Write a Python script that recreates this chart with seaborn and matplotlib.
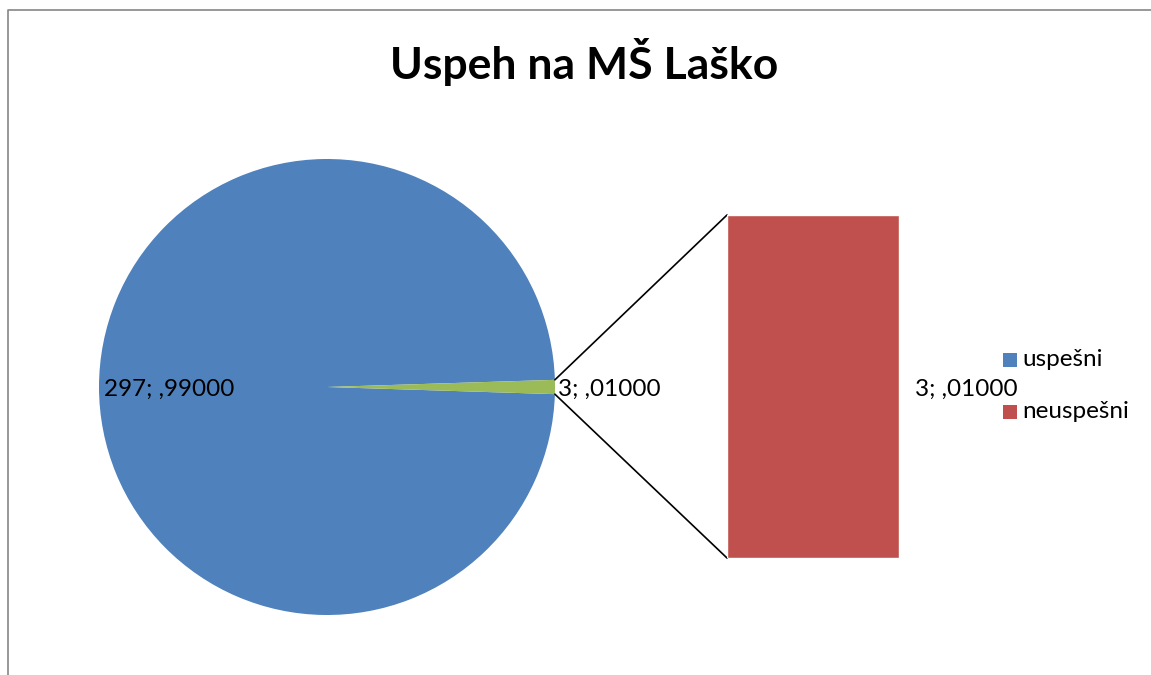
import matplotlib
matplotlib.use("Agg")
import matplotlib.pyplot as plt
import seaborn as sns
import pandas as pd
import numpy as np
from matplotlib.patches import Rectangle

# ---- data ----
categories = ["uspešni", "neuspešni"]
counts = [297, 3]
title = "Uspeh na MŠ Laško"
colors = {"uspešni": "#4F81BD", "neuspešni": "#C0504D", "other": "#9BBB59"}

total = sum(counts)
fracs = [c / total for c in counts]

def fmt(v, f):
    return f"{v}; " + f"{f:.5f}".lstrip("0").replace(".", ",")

sns.set_theme(style="white")
plt.rcParams["font.family"] = ["Lato", "DejaVu Sans"]
plt.rcParams["text.color"] = "black"

W, H = 1151, 675
fig = plt.figure(figsize=(W / 100, H / 100), dpi=100)
ax = fig.add_axes([0, 0, 1, 1])

# pie: main category + "other" slice (which is expanded into the bar)
cx, cy, r = 327, 387, 228
half = fracs[1] * 360 / 2
ax.pie([counts[0], counts[1]], colors=[colors["uspešni"], colors["other"]],
       startangle=half, center=(cx, cy), radius=r, frame=True,
       wedgeprops=dict(linewidth=0))
ax.set_xlim(0, W)
ax.set_ylim(H, 0)
ax.axis("off")

# bar (secondary plot) via seaborn in an inset axes
bx0, bx1, by0, by1 = 727, 899, 215, 558
bax = fig.add_axes([bx0 / W, 1 - by1 / H, (bx1 - bx0) / W, (by1 - by0) / H])
df = pd.DataFrame({"cat": [categories[1]], "val": [counts[1]]})
sns.barplot(data=df, x="cat", y="val", color=colors["neuspešni"], width=1.0,
            saturation=1, ax=bax)
bax.set_xlim(-0.5, 0.5)
bax.set_ylim(0, counts[1])
bax.axis("off")

# connector lines
for sgn, yb in ((1, by0), (-1, by1)):
    a = np.deg2rad(half)
    px, py = cx + r * np.cos(a), cy - sgn * r * np.sin(a)
    ax.plot([px, bx0], [py, yb], color="black", lw=1.2)

# labels
lab_fs = 17.5
ax.text(104, 389, fmt(counts[0], fracs[0]), fontsize=lab_fs, va="center", ha="left")
ax.text(558, 389, fmt(counts[1], fracs[1]), fontsize=lab_fs, va="center", ha="left")
ax.text(915, 389, fmt(counts[1], fracs[1]), fontsize=lab_fs, va="center", ha="left")

# title
ax.text(584, 62, title, fontsize=32, fontweight="bold", ha="center", va="center")

# legend
for i, cat in enumerate(categories):
    y = 360 + i * 52
    ax.add_patch(Rectangle((1003, y - 7), 14, 14, color=colors[cat], lw=0))
    ax.text(1022, y, cat, fontsize=lab_fs, va="center", ha="left")

# chart border (top and left visible)
ax.plot([8, 8, W + 5], [H + 5, 10, 10], color="#868686", lw=1.2)

fig.savefig("out.png", dpi=100)
